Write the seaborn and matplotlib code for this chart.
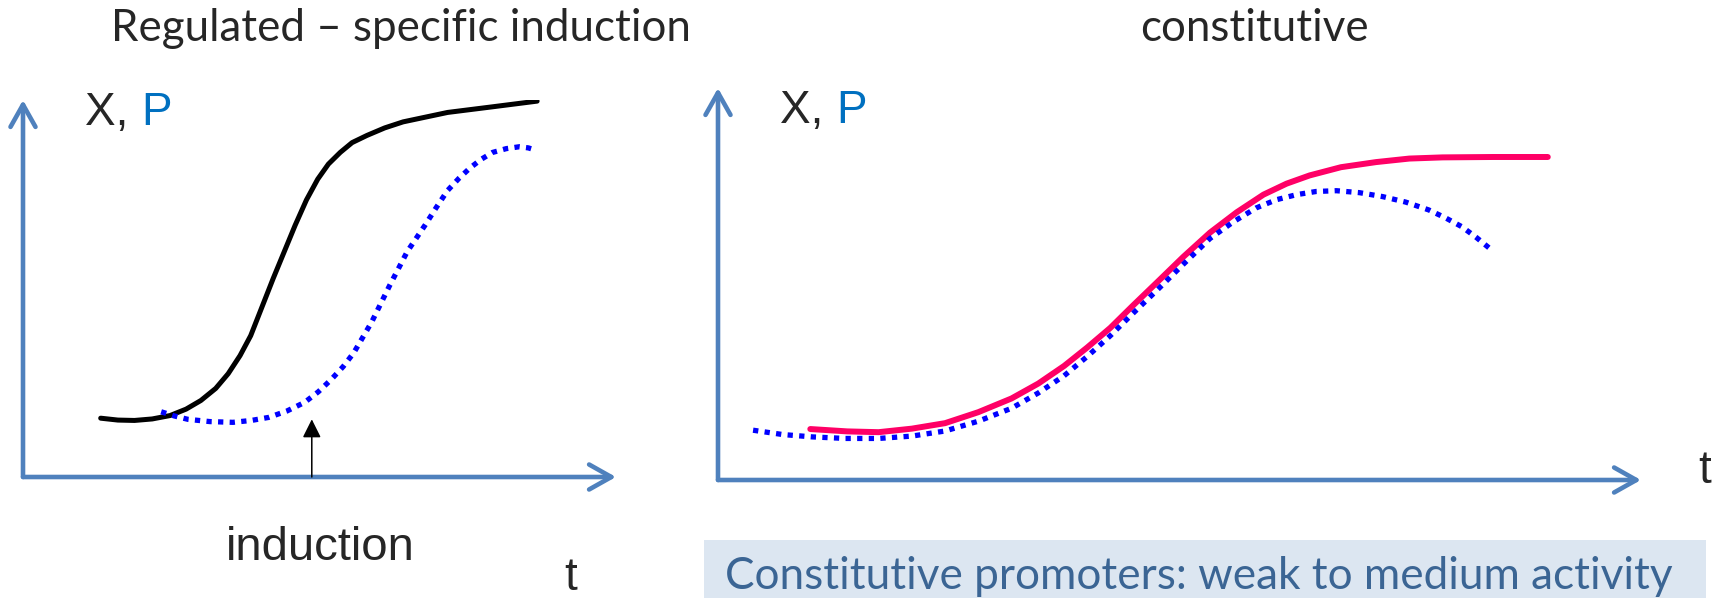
import numpy as np
import pandas as pd
import matplotlib.pyplot as plt
import seaborn as sns
from matplotlib.patches import Rectangle

# left panel: regulated (values in % of axis length)
reg_t_x = [13.1, 16.0, 18.8, 21.8, 24.8, 27.5, 30.0, 32.5, 34.6, 36.6, 38.4, 42.2, 45.9,
           47.8, 49.7, 51.5, 53.5, 55.5, 58.0, 61.0, 64.1, 71.6, 79.2, 86.7]
reg_x = [15.6, 15.1, 15.0, 15.4, 16.3, 18.0, 20.3, 23.5, 27.4, 32.2, 37.5, 52.7, 66.8,
         73.5, 79.0, 83.0, 86.1, 88.7, 90.6, 92.6, 94.2, 96.7, 98.2, 99.7]
reg_t_p = [23.3, 25.5, 27.8, 31.5, 35.4, 38.5, 41.4, 44.5, 47.5, 49.8, 52.0, 54.0, 55.8,
           58.8, 61.8, 64.8, 67.8, 69.7, 71.6, 73.5, 75.4, 77.3, 79.2, 81.5, 83.7, 85.2, 86.7]
reg_p = [17.3, 16.2, 15.3, 14.7, 14.5, 15.0, 15.8, 17.5, 19.8, 22.6, 25.9, 29.3, 33.0,
         41.1, 50.7, 59.8, 66.8, 71.5, 76.0, 79.2, 82.0, 84.3, 86.1, 87.1, 87.6, 87.3, 86.6]
induction_t = 48.7
induction_level = 15.3

# right panel: constitutive
con_t_x = [10.0, 14.0, 17.4, 21.0, 24.6, 28.2, 31.8, 34.7, 37.5, 40.0, 42.5, 45.0, 47.6,
           50.4, 53.3, 56.2, 59.1, 61.6, 64.1, 67.5, 71.3, 74.9, 78.5, 84.0, 89.9]
con_x = [13.0, 12.4, 12.2, 13.1, 14.5, 17.3, 20.8, 24.6, 29.1, 33.8, 38.8, 44.6, 50.5,
         56.9, 63.1, 68.3, 72.8, 75.6, 77.7, 79.8, 81.1, 82.0, 82.3, 82.4, 82.4]
con_t_p = [3.8, 7.0, 10.2, 13.8, 17.4, 21.0, 24.6, 28.2, 31.8, 34.7, 37.5, 40.0, 42.5, 45.0,
           47.6, 50.4, 53.3, 55.8, 58.3, 60.5, 62.7, 64.8, 67.0, 69.5, 72.0, 74.5, 77.0,
           78.8, 80.6, 82.2, 83.8]
con_p = [12.7, 11.6, 11.0, 10.6, 10.6, 11.2, 12.5, 15.0, 18.3, 22.2, 26.6, 31.5, 36.8, 42.6,
         48.5, 55.0, 61.6, 65.8, 69.4, 71.5, 72.8, 73.6, 73.8, 73.3, 72.3, 70.9, 68.9,
         66.9, 64.6, 61.8, 58.7]

title_left = 'Regulated \u2013 specific induction'
title_right = 'constitutive'
note = 'Constitutive promoters: weak to medium activity'

sns.set_style("white")
plt.rcParams['font.family'] = ['Liberation Sans', 'DejaVu Sans']

W, H = 1719, 598
fig = plt.figure(figsize=(W / 100, H / 100), dpi=100)

def px_axes(x0, y0, x1, y1):
    # axes box from origin (x0, y0) to arrow tips (x1, y1), in pixels
    return fig.add_axes([x0 / W, (H - y0) / H, (x1 - x0) / W, (y0 - y1) / H])

ax1 = px_axes(23, 477, 616, 100)
ax2 = px_axes(718, 480, 1641, 88)

axis_blue = '#4f81bd'
for ax in (ax1, ax2):
    ax.set_xlim(0, 100)
    ax.set_ylim(0, 100)
    ax.axis('off')
    for end in [(1, 0), (0, 1)]:
        ax.annotate('', xy=end, xytext=(0, 0), xycoords='axes fraction',
                    arrowprops=dict(arrowstyle='->,head_length=0.8,head_width=0.45',
                                    lw=3.3, color=axis_blue, mutation_scale=20,
                                    shrinkA=0, shrinkB=0, capstyle='round'),
                    annotation_clip=False)

dot = dict(color='#0000ff', lw=3.8, linestyle=(0, (1, 1.2)), dash_capstyle='butt')

sns.lineplot(x=reg_t_x, y=reg_x, ax=ax1, color='black', lw=3.6)
sns.lineplot(x=reg_t_p, y=reg_p, ax=ax1, **dot)
ax1.annotate('', xy=(induction_t, induction_level), xytext=(induction_t, 0),
             arrowprops=dict(arrowstyle='-|>,head_length=0.8,head_width=0.4',
                             lw=1.1, color='black', mutation_scale=14,
                             shrinkA=0, shrinkB=0))

sns.lineplot(x=con_t_x, y=con_x, ax=ax2, color='#ff0066', lw=4.3)
sns.lineplot(x=con_t_p, y=con_p, ax=ax2, **dot)

def ftext(x, y, s, **kw):
    return fig.text(x / W, (H - y) / H, s, **kw)

def fit(t, width_px):
    fig.canvas.draw()
    w = t.get_window_extent().width
    t.set_fontsize(t.get_fontsize() * width_px / w)

title_font = ['Lato', 'DejaVu Sans']
t1 = ftext(401, 41, title_left, fontsize=30, family=title_font, ha='center', va='baseline')
fit(t1, 577)
t2 = ftext(1254, 41, title_right, fontsize=30, family=title_font, ha='center', va='baseline')
fit(t2, 228)

for x0, base in [(85, 125), (780, 123)]:
    t = ftext(x0, base, 'X, ', fontsize=33, va='baseline')
    fig.canvas.draw()
    bb = t.get_window_extent()
    fig.text(bb.x1 / W, (H - base) / H, 'P', fontsize=33, color='#0070c0', va='baseline')

ftext(320, 560, 'induction', fontsize=34, ha='center', va='baseline')
ftext(571, 590, 't', fontsize=33, ha='center', va='baseline')
ftext(1705, 483, 't', fontsize=33, ha='center', va='baseline')

fig.patches.append(Rectangle((704 / W, 0), 1002 / W, 58 / H, transform=fig.transFigure,
                             facecolor='#dce6f1', edgecolor='none', zorder=0))
t3 = ftext(725, 589, note, fontsize=34, family=title_font, color='#3b6594',
           ha='left', va='baseline')
fit(t3, 949)

fig.savefig('out.png', dpi=100)
